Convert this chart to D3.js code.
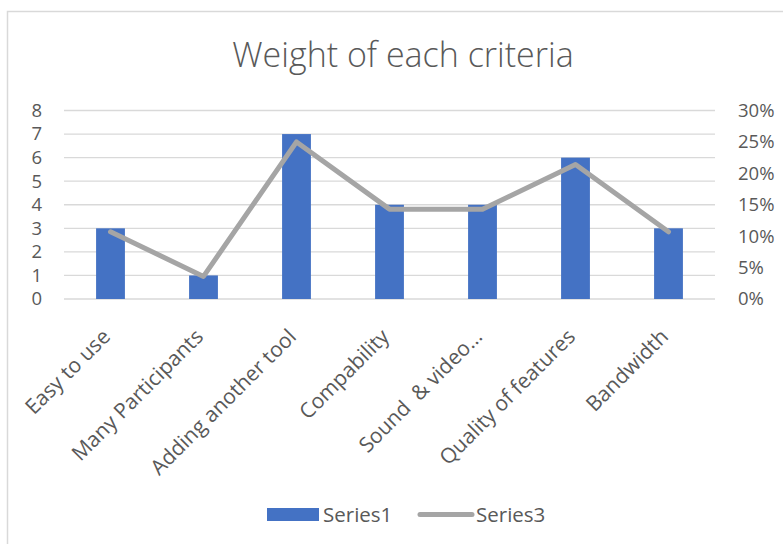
<!DOCTYPE html>
<html><head><meta charset="utf-8">
<script src="https://cdn.jsdelivr.net/npm/d3@7"></script>
<style>body{margin:0;background:#fff;}svg{display:block;}</style>
</head><body>
<svg id="c" width="783" height="544"></svg>
<script>
const categories = ["Easy to use","Many Participants","Adding another tool","Compability","Sound  & video\u2026","Quality of features","Bandwidth"];
const series1 = [3,1,7,4,4,6,3];
const series3 = [0.107,0.036,0.25,0.143,0.143,0.214,0.107];
const leftTicks = [0,1,2,3,4,5,6,7,8];
const rightTicks = [0,0.05,0.10,0.15,0.20,0.25,0.30];
const title = "Weight of each criteria";

const svg = d3.select("#c");
const font = "'Open Sans', sans-serif";
const gray = "#595959";

// chart border
svg.append("rect").attr("x",7.5).attr("y",11.5).attr("width",800).attr("height",600)
  .attr("fill","#fff").attr("stroke","#D9D9D9").attr("stroke-width",1.5);

const x0 = 64, x1 = 715, yTop = 110.5, yBot = 299;
const x = d3.scaleBand().domain(categories).range([x0,x1]);
const yL = d3.scaleLinear().domain([0,8]).range([yBot,yTop]);
const yR = d3.scaleLinear().domain([0,0.30]).range([yBot,yTop]);

svg.append("text").attr("x",403).attr("y",67).attr("text-anchor","middle")
  .attr("font-family",font).attr("font-size",34).attr("font-weight",300).attr("fill",gray).text(title);

// gridlines
svg.append("g").selectAll("line").data(leftTicks).join("line")
  .attr("x1",x0).attr("x2",x1).attr("y1",d=>yL(d)).attr("y2",d=>yL(d))
  .attr("stroke","#D9D9D9").attr("stroke-width",1.3);

// left axis
const la = svg.append("g").attr("transform",`translate(${x0},0)`)
  .call(d3.axisLeft(yL).tickValues(leftTicks).tickSize(0).tickPadding(22).tickFormat(d3.format("d")));
la.select(".domain").remove();
la.selectAll("text").attr("font-family",font).attr("font-size",18.5).attr("fill",gray);

// right axis
const ra = svg.append("g").attr("transform",`translate(${x1},0)`)
  .call(d3.axisRight(yR).tickValues(rightTicks).tickSize(0).tickPadding(23).tickFormat(d3.format(".0%")));
ra.select(".domain").remove();
ra.selectAll("text").attr("font-family",font).attr("font-size",18.5).attr("fill",gray);

// bars
const bw = x.bandwidth()*0.31;
svg.append("g").selectAll("rect").data(series1).join("rect")
  .attr("x",(d,i)=>x(categories[i])+x.bandwidth()/2-bw/2)
  .attr("width",bw)
  .attr("y",d=>yL(d)).attr("height",d=>yBot-yL(d))
  .attr("fill","#4472C4");

// line
const line = d3.line().x((d,i)=>x(categories[i])+x.bandwidth()/2).y(d=>yR(d));
svg.append("path").datum(series3).attr("d",line).attr("fill","none")
  .attr("stroke","#A5A5A5").attr("stroke-width",5).attr("stroke-linejoin","round").attr("stroke-linecap","round");

// x labels
const xa = svg.append("g").attr("transform",`translate(0,${yBot})`)
  .call(d3.axisBottom(x).tickSize(0).tickPadding(0));
xa.select(".domain").remove();
xa.selectAll("text").attr("font-family",font).attr("font-size",21).attr("fill",gray)
  .attr("text-anchor","end").attr("dy",0).style("white-space","pre")
  .attr("transform","translate(1,39) rotate(-45)");

// legend
const lg = svg.append("g").attr("font-family",font).attr("font-size",20.5).attr("fill",gray);
lg.append("rect").attr("x",267).attr("y",508).attr("width",52).attr("height",13).attr("fill","#4472C4");
lg.append("text").attr("x",323).attr("y",522).text("Series1");
lg.append("line").attr("x1",420).attr("x2",472).attr("y1",514.5).attr("y2",514.5)
  .attr("stroke","#A5A5A5").attr("stroke-width",5).attr("stroke-linecap","round");
lg.append("text").attr("x",476).attr("y",522).text("Series3");
</script>
</body></html>
